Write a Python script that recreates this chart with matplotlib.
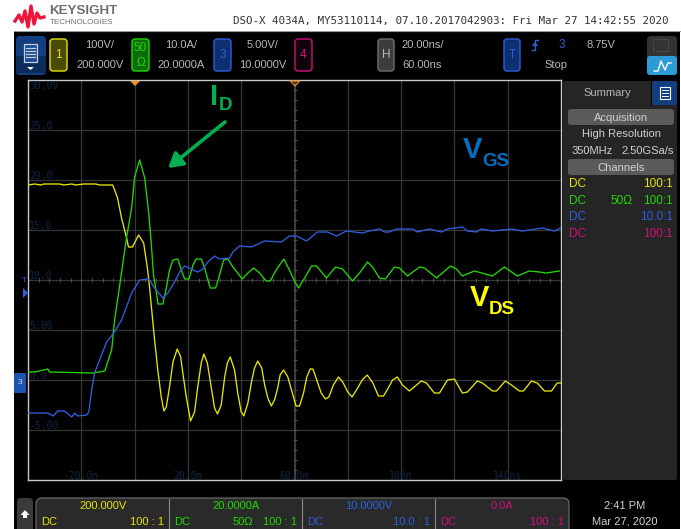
import numpy as np
import matplotlib
matplotlib.use('Agg')
import matplotlib.pyplot as plt
from matplotlib.patches import FancyBboxPatch, Rectangle, Polygon

# channel scope settings
vds_scale, vds_offset = 100.0, 200.0
id_scale, id_offset = 10.0, 20.0
vgs_scale, vgs_offset = 5.0, 10.0

# VDS (V) against time (ns)
vds_t = [-40, -37.5, -35.2, -34.1, -28.1, -26.6, -23.6, -22.1, -19.1, -14.6, -13.1, -8.2, -6.4, -4.9, -3, -2.3,
         -0.8, 1.5, 3.4, 4.9, 5.6, 7.5, 8.7, 10, 11, 11.9, 13.1, 14.4, 16, 17.3, 18.1, 19.4, 21, 22.5, 23.7, 25,
         26, 27.3, 28.5, 30, 31.1, 32.5, 33.8, 34.8, 35.9, 37.5, 38.7, 40, 41, 42.5, 44, 45, 46.2, 47.7, 48.8,
         50, 51.3, 52.5, 53.7, 54.6, 55.9, 57.5, 59.4, 60.6, 61.9, 63.4, 64.6, 65.9, 66.9, 68.1, 70, 71.6, 72.9,
         74.6, 76.5, 78.1, 80, 81.6, 83.7, 85.4, 87.3, 89.4, 91.5, 93.4, 95.4, 96.8,
         98.6, 100.5, 103.1, 107.6, 109.5, 112.5, 114.4, 117.4, 120, 123, 124.9, 128.6, 130.5, 134.3, 135.8,
         139.1, 141.4, 144.4, 145.9, 148.9, 151.1, 153.8, 156.4, 158.6, 159.8]
vds_v = [390, 392, 390, 392, 392, 390, 392, 390, 392, 392, 390, 390, 364, 324, 284, 266,
         266, 290, 274, 220, 186, 80, 20, -34, -62, -54, -14, 36, 62, 46, 14, -34, -82, -64, -14, 34,
         52, 34, -6, -56, -68, -50, 6, 34, 46, 20, -26, -64, -72, -46, 0, 24, 38, 24, -10,
         -36, -52, -40, -16, 10, 20, 6, -30, -52, -52, -26, 6, 22, 22, 4, -26, -38, -34,
         -10, 6, -4, -24, -34, -16, 0, 10, -6, -32, -32, -14, 0,
         6, -10, -22, -2, -6, -26, -26, 0, 2, -26, -24, -2, -6, -22, -22,
         -2, -10, -22, -22, -2, -6, -22, -22, -6, -6]

# ID (A) against time (ns)
id_t = [-40, -37.5, -32.6, -31.9, -15.7, -11.2, -8.6, -7.5, -5.3, -3, -1.1, 0, 1.9, 3.8, 5.3, 6.3, 7.1, 7.9, 8.8,
        10.6, 11.9, 13.1, 14.4, 16.2, 17.5, 18.8, 20.4, 21.9, 23.1, 25, 26.3, 27.5, 28.4, 30.4, 31.9, 33.4, 35,
        36.9, 38.7, 40.4, 42.5, 44.7, 46.9, 49.4, 50.9, 53.1, 56, 58.1, 60, 61.5, 63.8, 66.4, 68.3, 72, 75.4,
        78, 81.8, 84.4, 87.4, 89.3, 91.9, 94.1, 97.5, 99.4, 102.4, 106.9, 108.8, 113.3, 118.5, 120.8, 123, 127.5,
        134.3, 138.8, 143.6, 148.1, 151.9, 154.5, 159.4]
id_a = [1.6, 1.6, 2.2, 1.6, 1.4, 1.8, 6, 12, 20, 28.6, 34.4, 40.6, 44, 40.4, 33.4, 27, 21, 18.4, 15.2,
        15.2, 18.4, 22, 24, 24.2, 22, 20.2, 20.2, 23, 24.2, 24.2, 22.4, 20, 18.4, 18.4, 21, 24, 24.2,
        22.6, 21.4, 20.2, 21.4, 22.4, 21.4, 19.8, 19.8, 22, 24.2, 22, 19.8, 18.4, 20.4, 22.8, 22.8, 20.4, 22.6,
        22.2, 19.8, 21.4, 23.6, 22.6, 20.4, 20.2, 22.6, 22.4, 20.8, 22.6, 22.4, 20.4, 22.8, 22.2, 20.8, 21.8,
        20.8, 22.6, 20.8, 21.8, 21.6, 21.4, 21.8]

# VGS (V) against time (ns)
vgs_t = [-40, -32.6, -30.5, -28.9, -26.3, -23.6, -22.5, -21.4, -18, -17.2, -16.1, -15, -12.4, -10.5, -7.5, -4.9,
         -1.1, 1.9, 4.9, 5.6, 7.5, 10.6, 12.5, 15, 16.9, 18.8, 21.3, 23.7, 25.6, 27.5, 30, 31.9, 35.6, 36.9, 39.4,
         43.8, 48.8, 55.1, 58.1, 60.8, 64.5, 68.6, 72.4, 75.8, 79.5, 85.5, 88.1, 91.9, 93.8, 95.6, 98.3, 104.3,
         106.1, 110.6, 115.1, 117.4, 123, 124.9, 128.3, 130.1, 134.3, 141.4, 145.5, 153, 157.5, 159.8]
vgs_v = [-3.3, -3.3, -3.6, -3.1, -3.1, -3.7, -3.3, -3.6, -3.5, -3.2, -1, 0.7, 2.5, 3.8, 4.8, 6,
         8.7, 10, 10.1, 10, 9.2, 8.2, 8.7, 9.8, 10.8, 11.4, 11.1, 10.8, 11.1, 11.8, 12.4, 12.1, 12.2, 12.8, 13.4,
         13.3, 13.9, 13.8, 14.4, 14.4, 13.9, 14.8, 14.8, 14.4, 14.9, 14.7, 14.9, 15.1, 14.8, 14.8, 15.1, 15.1,
         14.8, 15.1, 14.8, 15.1, 15.3, 14.9, 14.8, 15.1, 14.9, 15.1, 14.9, 15.2, 14.9, 15.2]

y_labels = ['30.0V', '25.0', '20.0', '15.0', '10.0', '5.00', '0.0', '-5.00']
y_label_vals = [30, 25, 20, 15, 10, 5, 0, -5]
t_labels = ['-20.0n', '20.0n', '60.0n', '100n', '140ns']
t_label_vals = [-20, 20, 60, 100, 140]

W, H = 681, 529
YELLOW = '#e6e600'
GREEN = '#22d800'
BLUE = '#2f5fe0'
PINK = '#d0107a'
GREY = '#b8b8b8'
SANS = 'Liberation Sans'
MONO = 'DejaVu Sans Mono'


def to_screen(vals, scale, offset):
    # channel units -> the channel 3 volt axis of the graticule
    return (np.array(vals) - offset) / scale * vgs_scale + vgs_offset


fig = plt.figure(figsize=(W / 100, H / 100), dpi=100, facecolor='white')

# pixel canvas for the instrument chrome
ui = fig.add_axes([0, 0, 1, 1], zorder=1)
ui.set_xlim(0, W)
ui.set_ylim(H, 0)
ui.axis('off')


def box(x0, y0, x1, y1, fc, ec='none', r=2, lw=1.0, z=1):
    ui.add_patch(FancyBboxPatch((x0 + r, y0 + r), x1 - x0 - 2 * r, y1 - y0 - 2 * r, boxstyle='round,pad=%g' % r,
                                fc=fc, ec=ec, lw=lw, zorder=z))


def label(x, y, s, c=GREY, size=8, ha='center', family=SANS, **kw):
    ui.text(x, y, s, color=c, fontsize=size, ha=ha, va='center', family=family, zorder=5, **kw)


ui.add_patch(Rectangle((14, 31), 666, 467, fc='black', ec='none', zorder=0))
ui.plot([14, 680], [31, 31], color='#9a9a9a', lw=0.8, zorder=1)

# logo
wave_x = [15, 19, 22, 25, 28, 31, 34, 37, 40, 44]
wave_y = [21, 15, 22, 11, 27, 6, 24, 13, 18, 17]
ui.plot(wave_x, wave_y, color='#f0143c', lw=2.4, zorder=2, solid_joinstyle='round')
label(49, 11, 'KEYSIGHT', c='#6e6e6e', size=9.6, ha='left', fontweight='bold')
label(50, 22.5, 'TECHNOLOGIES', c='#6e6e6e', size=5.8, ha='left')
label(233, 21, 'DSO-X 4034A, MY53110114, 07.10.2017042903: Fri Mar 27 14:42:55 2020', c='#333333', size=7.85,
      ha='left', family=MONO)

# top channel row
box(16, 36, 46, 75, '#123f80', r=4)
ui.add_patch(Rectangle((16, 56), 30, 17, fc='#0c2c5c', zorder=1.5))
ui.add_patch(Rectangle((24, 44), 13, 18, fc='#1c4a90', ec='#c8d0e0', lw=0.9, zorder=2))
for yy in [48, 51, 54, 57]:
    ui.plot([26, 35], [yy, yy], color='#c8d0e0', lw=0.9, zorder=3)
ui.add_patch(Polygon([[27, 67], [34, 67], [30.5, 70]], fc='white', zorder=3))

box(50, 39, 67, 71, '#4a4a00', ec=YELLOW, r=3)
label(58.5, 55, '1', c=YELLOW, size=8.5)
label(100, 45, '100V/')
label(100, 65, '200.000V')
box(132, 39, 149, 71, '#0f6a0f', ec=GREEN, r=3)
label(140.5, 48, '50', c=GREEN, size=8.5)
label(140.5, 63, 'Ω', c=GREEN, size=8.5)
label(181, 45, '10.0A/')
label(181, 65, '20.0000A')
box(214, 39, 231, 71, '#0d2f70', ec=BLUE, r=3)
label(222.5, 55, '3', c=BLUE, size=8.5)
label(263, 45, '5.00V/')
label(263, 65, '10.0000V')
box(295, 39, 312, 71, '#12000a', ec=PINK, r=3)
label(303.5, 55, '4', c=PINK, size=8.5)
box(378, 39, 394, 71, '#3c3c3c', ec='#707070', r=3)
label(386, 55, 'H', c=GREY, size=8.5)
label(401, 45, '20.00ns/', ha='left')
label(402, 65, '60.00ns', ha='left')
box(504, 39, 520, 71, '#0d2f70', ec=BLUE, r=3)
label(512, 55, 'T', c=BLUE, size=8.5)
ui.plot([532, 535, 535, 538], [50, 50, 40, 40], color=BLUE, lw=1.0, zorder=3)
ui.add_patch(Polygon([[532, 46], [538, 46], [535, 42]], fc=BLUE, zorder=3))
label(562, 45, '3', c=BLUE, size=8.5)
label(601, 45, '8.75V')
label(556, 65, 'Stop')
box(647, 36, 677, 75, '#333333', r=4)
box(647, 56, 677, 75, '#2c9bd6', r=3)
ui.add_patch(Rectangle((653, 39), 15, 12, fc='none', ec='#6a6a6a', lw=0.7, ls=':', zorder=2))
ui.plot([654, 658, 661, 665, 668, 671], [71, 71, 61, 70, 63, 63], color='white', lw=1.0, zorder=3)

# right side panel
box(563, 81, 677, 480, '#252525', r=2)
box(652, 81, 677, 105, '#123f80', r=2, z=2)
ui.add_patch(Rectangle((660, 87), 10, 12, fc='none', ec='white', lw=0.8, zorder=3))
for yy in [90, 93, 96]:
    ui.plot([662, 668], [yy, yy], color='white', lw=0.7, zorder=3)
ui.plot([651, 651], [81, 105], color='black', lw=0.8, zorder=3)
label(607, 93, 'Summary', size=8)
box(568, 109, 674, 125, '#5a5a5a', r=3, z=2)
label(621, 118, 'Acquisition', c='#d0d0d0', size=8)
label(621, 134, 'High Resolution', c='#d0d0d0', size=8)
label(572, 151, '350MHz', c='#d0d0d0', size=8, ha='left')
label(674, 151, '2.50GSa/s', c='#d0d0d0', size=8, ha='right')
box(568, 159, 674, 175, '#5a5a5a', r=3, z=2)
label(621, 168, 'Channels', c='#d0d0d0', size=8)
panel_rows = [(184, YELLOW, '', '100:1'), (201, GREEN, '50Ω', '100:1'), (217, BLUE, '', '10.0:1'),
              (234, PINK, '', '100:1')]
for yy, col, mid, ratio in panel_rows:
    label(569, yy, 'DC', c=col, size=8.5, ha='left')
    if mid:
        label(621, yy, mid, c=col, size=8.5)
    label(673, yy, ratio, c=col, size=8.5, ha='right')

# bottom strip
ui.add_patch(Rectangle((0, 498), W, 31, fc='white', zorder=0.5))
ui.add_patch(Rectangle((14, 498), 666, 31, fc='black', zorder=0.6))
box(17, 498, 33, 535, '#3a3a3a', r=4)
ui.add_patch(Polygon([[25, 510], [20.5, 515], [23, 515], [23, 518], [27, 518], [27, 515], [29.5, 515]],
                     fc='white', zorder=3))
box(36, 498, 569, 540, '#2a2a2a', ec='#707070', r=6, lw=0.8)
for xx in [169, 302, 435]:
    ui.plot([xx, xx], [499, 529], color='#8a8a8a', lw=0.8, zorder=3)
label(103, 506, '200.000V', c=YELLOW, size=8)
label(41, 522, 'DC', c=YELLOW, size=8, ha='left')
label(164, 522, '100 : 1', c=YELLOW, size=8, ha='right')
label(236, 506, '20.0000A', c=GREEN, size=8)
label(174, 522, 'DC', c=GREEN, size=8, ha='left')
label(243, 522, '50Ω', c=GREEN, size=8)
label(297, 522, '100 : 1', c=GREEN, size=8, ha='right')
label(369, 506, '10.0000V', c=BLUE, size=8)
label(307, 522, 'DC', c=BLUE, size=8, ha='left')
label(430, 522, '10.0 : 1', c=BLUE, size=8, ha='right')
label(502, 506, '0.0A', c=PINK, size=8)
label(440, 522, 'DC', c=PINK, size=8, ha='left')
label(564, 522, '100 : 1', c=PINK, size=8, ha='right')
label(625, 506, '2:41 PM', c='#d0d0d0', size=8)
label(625, 522, 'Mar 27, 2020', c='#d0d0d0', size=8)

# graticule
ax = fig.add_axes([28 / W, (H - 480) / H, 533 / W, 400 / H], zorder=2)
ax.set_facecolor('black')
ax.set_xlim(-40, 160)
ax.set_ylim(-10, 30)
ax.set_xticks(np.arange(-20, 160, 20))
ax.set_yticks(np.arange(-5, 30, 5))
ax.grid(True, color='#363636', lw=0.9)
ax.set_axisbelow(True)
ax.tick_params(length=0, labelbottom=False, labelleft=False)
for s in ax.spines.values():
    s.set_color('#c8c8c8')
    s.set_linewidth(1.0)
ax.axvline(60, color='#404040', lw=1.3, zorder=1)
ax.plot(np.arange(-40, 160, 4), np.full(50, 10), ls='none', marker='|', ms=3, mew=0.7, color='#505050', zorder=1)
ax.plot(np.full(40, 60), np.arange(-10, 30, 1), ls='none', marker='_', ms=3, mew=0.7, color='#505050', zorder=1)

for v, s in zip(y_label_vals, y_labels):
    yy = v - 0.6 if v == 30 else v + 0.4
    ax.text(-39.5, yy, s, color='#0a2848', fontsize=7, family=MONO, va='center', ha='left')
for t, s in zip(t_label_vals, t_labels):
    ax.text(t, -9.6, s, color='#0a2848', fontsize=7, family=MONO, va='center', ha='center')

ax.plot(vds_t, to_screen(vds_v, vds_scale, vds_offset), color=YELLOW, lw=0.95, zorder=3)
ax.plot(id_t, to_screen(id_a, id_scale, id_offset), color=GREEN, lw=0.95, zorder=4)
ax.plot(vgs_t, to_screen(vgs_v, vgs_scale, vgs_offset), color=BLUE, lw=0.95, zorder=5)

# markers on top of the graticule, overlay in pixels
top = fig.add_axes([0, 0, 1, 1], zorder=3)
top.set_xlim(0, W)
top.set_ylim(H, 0)
top.axis('off')
top.add_patch(Polygon([[130, 81], [140, 81], [135, 86]], fc='#f09020', ec='none'))
top.add_patch(Polygon([[290.5, 81], [299.5, 81], [295, 86]], fc='none', ec='#f09020', lw=0.9))
top.add_patch(Polygon([[23, 288], [23, 298], [28, 293]], fc=BLUE, ec='none'))
top.text(24, 281, 'T', color=BLUE, fontsize=6, ha='center', va='center', family=SANS)
top.add_patch(FancyBboxPatch((15, 374), 10, 18, boxstyle='round,pad=1', fc='#1a56b0', ec='none'))
top.text(20, 383, '3', color='#c8d8f0', fontsize=6, ha='center', va='center', family=SANS)

# hand-drawn callouts
top.annotate('', xy=(168, 168), xytext=(225, 122),
             arrowprops=dict(arrowstyle='-|>,head_width=0.5,head_length=0.85', color='#00b050', lw=2.6,
                             shrinkA=0, shrinkB=0))
for x, y, s, c, size in [(210, 97, 'I', '#00b050', 21), (219, 106, 'D', '#00b050', 13.5),
                         (463, 150, 'V', '#0070c0', 21), (482, 161, 'GS', '#0070c0', 13.5),
                         (470, 298, 'V', '#ffff00', 21), (489, 310, 'DS', '#ffff00', 13.5)]:
    top.text(x, y, s, color=c, fontsize=size, fontweight='bold', ha='left', va='center', family=SANS)

fig.savefig('out.png', dpi=100, facecolor='white')
